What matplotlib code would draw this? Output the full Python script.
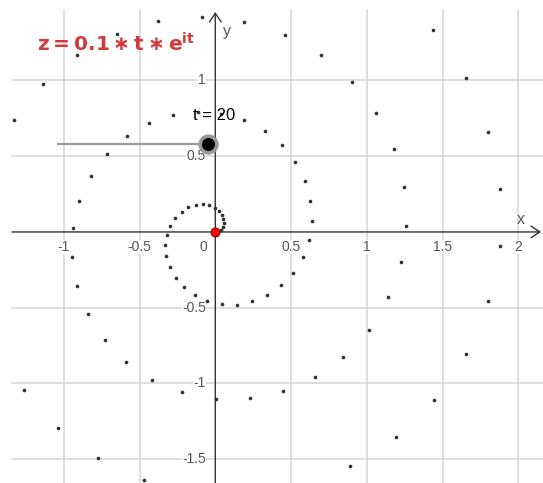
import numpy as np
from matplotlib import pyplot as plt

# sampled points of the spiral, visible part of the view
xs = [0.0, 0.020, 0.037, 0.050, 0.056, 0.054, 0.043, 0.024, -0.005, -0.041,
      -0.083, -0.130, -0.177, -0.223, -0.264, -0.297, -0.319, -0.329, -0.323, -0.301,
      -0.261, -0.206, -0.135, -0.052, 0.042, 0.142, 0.244, 0.343, 0.434, 0.514,
      0.576, 0.618, 0.636, 0.628, 0.591, 0.528, 0.438, 0.325, 0.191, 0.039,
      -0.116, -0.279, -0.437, -0.584, -0.714, -0.820, -0.897, -0.940, -0.945, -0.912,
      -0.839, -0.729, -0.587, -0.416, -0.222, 0.005, 0.228, 0.448, 0.657, 0.845,
      1.013, 1.141, 1.224, 1.259, 1.244, 1.179, 1.064, 0.900, 0.696, 0.457,
      0.190, -0.090, -0.375, -0.652, -0.911, -1.140, -1.327,
      -1.264, -1.037, -0.773, -0.468,
      0.888, 1.190, 1.445, 1.654, 1.802, 1.877, 1.879, 1.803, 1.655, 1.434]
ys = [0.0, 0.004, 0.016, 0.034, 0.057, 0.084, 0.112, 0.138, 0.160, 0.175,
      0.182, 0.178, 0.162, 0.134, 0.094, 0.042, -0.019, -0.087, -0.159, -0.233,
      -0.303, -0.366, -0.419, -0.457, -0.478, -0.479, -0.459, -0.417, -0.353, -0.270,
      -0.168, -0.052, 0.075, 0.206, 0.336, 0.460, 0.572, 0.665, 0.736, 0.779,
      0.791, 0.771, 0.718, 0.631, 0.515, 0.371, 0.205, 0.023, -0.167, -0.359,
      -0.544, -0.713, -0.859, -0.975, -1.057, -1.100, -1.097, -1.048, -0.957, -0.824,
      -0.644, -0.432, -0.196, 0.042, 0.297, 0.546, 0.782, 0.993, 1.168, 1.302,
      1.387, 1.417, 1.391, 1.306, 1.167, 0.975, 0.741,
      -1.045, -1.296, -1.492, -1.634,
      -1.543, -1.351, -1.106, -0.806, -0.459, -0.092, 0.285, 0.659, 1.014, 1.336]

x_ticks = [-1, -0.5, 0.5, 1, 1.5, 2]
x_labels = ["-1", "-0.5", "0.5", "1", "1.5", "2"]
y_ticks = [-1.5, -1, -0.5, 0.5, 1]
y_labels = ["-1.5", "-1", "-0.5", "0.5", "1"]
t_value = 20

fig = plt.figure(figsize=(5.43, 4.83), dpi=100)
ax = fig.add_axes([0, 0, 1, 1])
ax.set_xlim(-1.421, 2.163)
ax.set_ylim(-1.657, 1.531)
ax.axis("off")

grid_kw = dict(color="#d4d4d4", lw=1.1, zorder=0)
for gx in x_ticks:
    ax.plot([gx, gx], [-1.657, 1.465], **grid_kw)
for gy in y_ticks:
    ax.plot([-1.342, 2.163], [gy, gy], **grid_kw)

# axes with open arrow heads
arrow_kw = dict(arrowstyle="->,head_length=0.45,head_width=0.3", color="#333333",
                lw=1.0, mutation_scale=14, shrinkA=0, shrinkB=0)
ax.annotate("", xy=(2.150, 0), xytext=(-1.342, 0), arrowprops=arrow_kw, zorder=1)
ax.annotate("", xy=(0, 1.452), xytext=(0, -1.657), arrowprops=arrow_kw, zorder=1)

lab_kw = dict(fontsize=10, color="#555555", family="Liberation Sans", zorder=2,
              bbox=dict(facecolor="white", edgecolor="none", pad=0.3))
for v, s in zip(x_ticks, x_labels):
    ax.text(v, -0.099, s, ha="center", va="center", **lab_kw)
ax.text(-0.05, -0.099, "0", ha="right", va="center", **lab_kw)
for v, s in zip(y_ticks, y_labels):
    ax.text(-0.062, v, s, ha="right", va="center", **lab_kw)
ax.text(2.015, 0.08, "x", ha="center", va="center", fontsize=11.5, color="#555555",
        family="Liberation Sans")
ax.text(0.075, 1.32, "y", ha="center", va="center", fontsize=11.5, color="#555555",
        family="Liberation Sans")

ax.scatter(xs, ys, s=7, color="#333333", linewidths=0, zorder=3)

# slider for t
ax.plot([-1.047, -0.046], [0.579, 0.579], color="#9a9a9a", lw=1.6, zorder=4,
        solid_capstyle="butt")
ax.plot(-0.046, 0.579, "o", ms=12, mfc="black", mec="#9a9a9a", mew=2.6, zorder=5)
ax.text(-0.007, 0.766, f"t = {t_value}", ha="center", va="center", fontsize=12,
        color="black", family="Liberation Sans", zorder=5)

ax.plot(0, 0, "o", ms=6.5, mfc="#ff0000", mec="#800000", mew=0.7, zorder=6)

fig.text(37 / 543, 1 - 52 / 483, r"$\mathbf{z = 0.1 \ast t \ast e^{it}}$",
         color="#d03a3a", fontsize=14.5, ha="left", va="baseline")

fig.savefig("out.png", dpi=100)
